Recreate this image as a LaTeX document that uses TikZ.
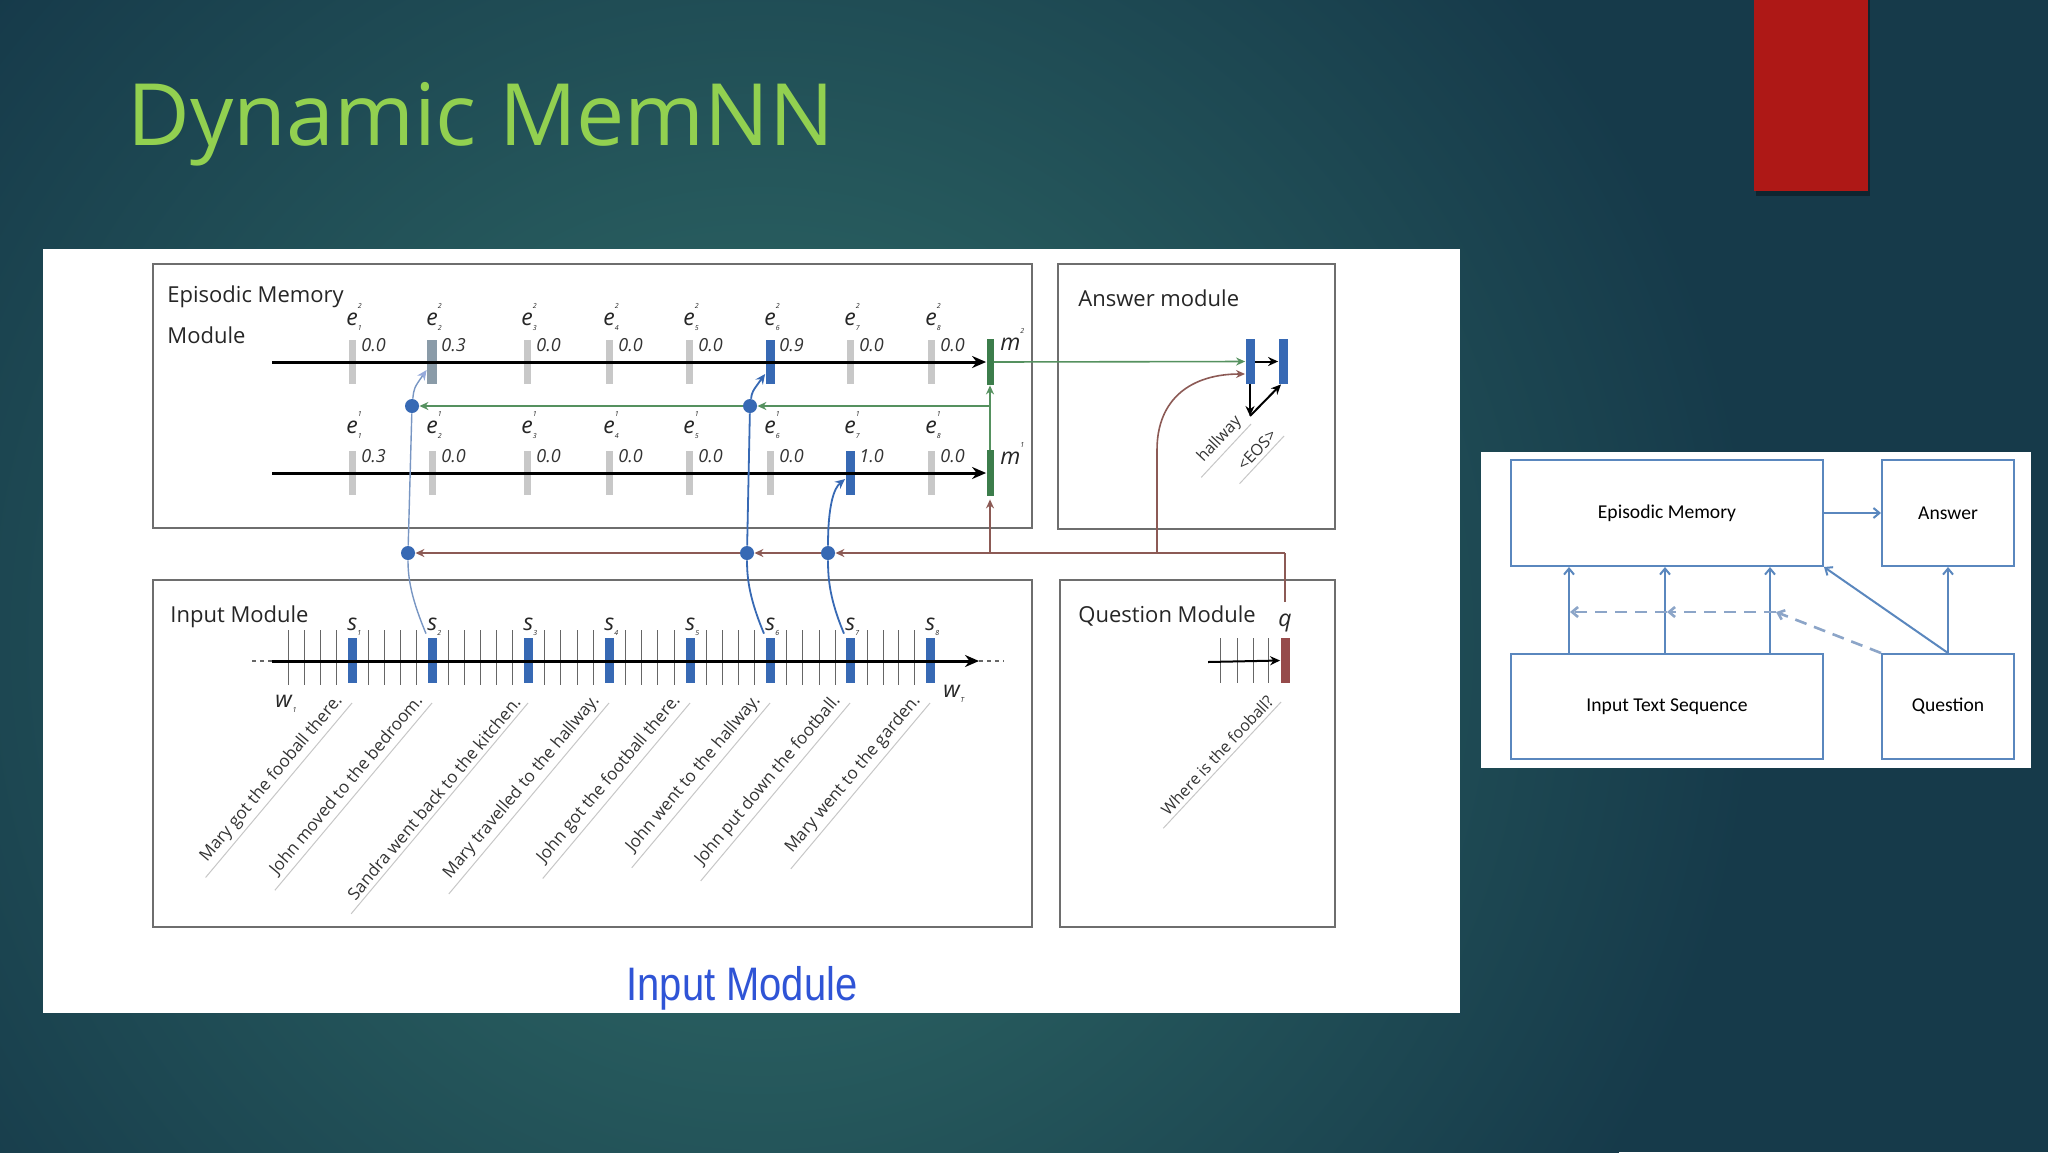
\documentclass[tikz,border=0pt]{standalone}
\usepackage{fontspec}
\setmainfont{Open Sans}
\newfontfamily\calibrifont{Carlito}
\newfontfamily\narrowsans[FakeStretch=0.85]{Liberation Sans}
\usetikzlibrary{arrows.meta}

\definecolor{bgout}{RGB}{22,58,74}
\definecolor{bgin}{RGB}{50,112,106}
\definecolor{titlegreen}{RGB}{146,208,80}
\definecolor{slidered}{RGB}{174,24,22}
\definecolor{boxgray}{RGB}{110,110,110}
\definecolor{lgray}{RGB}{200,200,200}
\definecolor{gblue}{RGB}{138,155,168}
\definecolor{bblue}{RGB}{55,105,180}
\definecolor{sblue}{RGB}{120,150,195}
\definecolor{lav}{RGB}{150,170,220}
\definecolor{dgreen}{RGB}{60,125,75}
\definecolor{lgreen}{RGB}{85,145,95}
\definecolor{brn}{RGB}{140,90,85}
\definecolor{qbrn}{RGB}{150,75,75}
\definecolor{pblue}{RGB}{90,135,190}
\definecolor{pdashc}{RGB}{140,165,200}
\definecolor{imblue}{RGB}{47,84,214}

\newcommand{\sublbl}[3]{\textit{#1}\makebox[0pt][l]{\raisebox{1.35ex}{\fontsize{3.5}{4}\selectfont\textit{#2}}}\raisebox{-0.45ex}{\fontsize{3.5}{4}\selectfont\textit{#3}}}

\begin{document}
\begin{tikzpicture}[x=0.5pt,y=0.5pt,
  module/.style={draw=boxgray, line width=1pt, inner sep=0},
  bar/.style={inner sep=0, minimum width=3.5pt, minimum height=22pt, draw=none},
  modlab/.style={font=\fontsize{11}{13}\selectfont, text=black!85, inner sep=0, anchor=base west},
  elab/.style={font=\fontsize{11.5}{13}\selectfont, text=black!85, inner sep=0, anchor=base west},
  nlab/.style={font=\fontsize{9}{10}\selectfont\itshape, text=black!80, inner sep=0, anchor=base west},
  sent/.style={font=\fontsize{8}{9}\selectfont, text=black!80, rotate=47, anchor=south east, inner sep=2pt},
  isent/.style={font=\fontsize{8.5}{9}\selectfont, text=black!80, rotate=50, anchor=south east, inner sep=2pt},
  uline/.style={draw=black!22, line width=0.5pt, shorten >=-4pt},
  rowline/.style={draw=black, line width=1.5pt, -{Stealth[length=7pt,width=6pt]}},
  thinblk/.style={draw=black, line width=1pt, -{Stealth[length=5pt,width=4.5pt]}},
  tickline/.style={draw=black!60, line width=0.4pt},
  gline/.style={draw=lgreen, line width=0.8pt},
  garrow/.style={draw=lgreen, line width=0.8pt, -{Stealth[length=4.5pt,width=4pt]}},
  bline/.style={draw=brn, line width=0.8pt},
  barrow/.style={draw=brn, line width=0.8pt, -{Stealth[length=4.5pt,width=4pt]}},
  dot/.style={circle, fill=bblue, inner sep=0, minimum size=7pt},
  spath/.style={draw=bblue, line width=0.9pt},
  sarrow/.style={draw=bblue, line width=0.9pt, -{Stealth[length=5pt,width=4.5pt]}},
  lpath/.style={draw=sblue, line width=0.7pt},
  larrow/.style={draw=sblue, line width=0.7pt, -{Stealth[length=5pt,width=4.5pt,color=lav,fill=lav]}},
  pbox/.style={draw=pblue, line width=1pt, inner sep=0, font=\calibrifont\fontsize{9.8}{11}\selectfont},
  parrow/.style={draw=pblue, line width=1pt, -{Straight Barb[length=3pt,width=5pt]}},
  pdash/.style={draw=pdashc, line width=1.3pt, dash pattern=on 6pt off 4pt, -{Straight Barb[length=3pt,width=5pt]}}
]
% background
\useasboundingbox (0,0) rectangle (2048,-1152);
\fill[bgout] (0,0) rectangle (2048,-1152);
\begin{scope}
\clip (0,0) rectangle (2048,-1152);
\shade[inner color=bgin, outer color=bgout] (760,-640) circle (1000);
\end{scope}
% red tab
\fill[black, opacity=0.35] (1756,0) rectangle (1870,-196);
\fill[slidered] (1754,0) rectangle (1868,-191);
% title
\node[font=\fontsize{43}{50}\selectfont, text=titlegreen, anchor=base west, inner sep=0] (title) at (127,-145) {Dynamic MemNN};

% white panel
\fill[white] (43,-249) rectangle (1460,-1013);

% module boxes
\node[module, minimum width=439.5pt, minimum height=132pt] (epi) at (592.5,-396) {};
\node[module, minimum width=138.5pt, minimum height=132.5pt] (ans) at (1196.5,-396.5) {};
\node[module, minimum width=439.5pt, minimum height=173.5pt] (inp) at (592.5,-753.5) {};
\node[module, minimum width=137.5pt, minimum height=173.5pt] (que) at (1197.5,-753.5) {};

\node[modlab] (epiT1) at (167,-302) {Episodic Memory};
\node[modlab] (epiT2) at (167,-343) {Module};
\node[modlab] (ansT) at (1078,-306) {Answer module};
\node[modlab] (inpT) at (170,-622) {Input Module};
\node[modlab] (queT) at (1078,-622) {Question Module};

% episodic rows
\foreach \i/\x/\v/\c/\w in {1/352/0.0/lgray/3.5pt, 2/432/0.3/gblue/5pt, 3/527/0.0/lgray/3.5pt, 4/609/0.0/lgray/3.5pt, 5/689/0.0/lgray/3.5pt, 6/770/0.9/bblue/4.5pt, 7/850/0.0/lgray/3.5pt, 8/931/0.0/lgray/3.5pt}{
  \node[bar, fill=\c, minimum width=\w] (t\i) at (\x,-362) {};
  \node[elab] (te\i) at (\x-6,-325) {\sublbl{e}{2}{\i}};
  \node[nlab] (tv\i) at (\x+9,-351) {\v};
}
\foreach \i/\x/\v/\c/\w in {1/352/0.3/lgray/3.5pt, 2/432/0.0/lgray/3.5pt, 3/527/0.0/lgray/3.5pt, 4/609/0.0/lgray/3.5pt, 5/689/0.0/lgray/3.5pt, 6/770/0.0/lgray/3.5pt, 7/850/1.0/bblue/4.5pt, 8/931/0.0/lgray/3.5pt}{
  \node[bar, fill=\c, minimum width=\w] (b\i) at (\x,-473) {};
  \node[elab] (be\i) at (\x-6,-433) {\sublbl{e}{1}{\i}};
  \node[nlab] (bv\i) at (\x+9,-462) {\v};
}
\node[bar, fill=dgreen, minimum height=23pt] (m2) at (990,-362) {};
\node[bar, fill=dgreen, minimum height=23pt] (m1) at (990,-473) {};
\node[elab] (m2T) at (1000,-350) {\sublbl{m}{2}{}};
\node[elab] (m1T) at (1000,-464) {\sublbl{m}{1}{}};

\coordinate (r2s) at (272,-362);
\coordinate (r1s) at (272,-473);
\draw[rowline] (r2s) -- (m2.west);
\draw[rowline] (r1s) -- (m1.west);

% green connections
\draw[garrow] (m1.north) -- (m2.south);
\node[dot] (u2) at (412,-406) {};
\node[dot] (u6) at (750,-406) {};
\coordinate (g0) at (990,-406);
\draw[garrow] (g0) -- (u6);
\draw[garrow] (u6) -- (u2);

% input module
\foreach \t in {288,304,320,336,368,384,400,416,448,464,480,496,512,544,560,577,593,625,641,657,674,706,722,738,754,786,802,819,835,867,883,898,914}{
  \draw[tickline] (\t,-630) -- (\t,-685);
}
\coordinate (inS) at (272,-661);
\coordinate (inE) at (979,-661);
\coordinate (inD0) at (252,-661);
\coordinate (inD1) at (1004,-661);
\draw[draw=black!60, line width=0.6pt, dash pattern=on 2pt off 2pt] (inD0) -- (inS);
\draw[draw=black!60, line width=0.6pt, dash pattern=on 2pt off 2pt] (inE) -- (inD1);
\foreach \i/\x in {1/352,2/432,3/528,4/609,5/690,6/770,7/850,8/930}{
  \node[bar, fill=bblue, minimum width=4.5pt, minimum height=22.5pt] (s\i) at (\x,-660.5) {};
  \node[elab] (sT\i) at (\x-5,-630) {\sublbl{s}{}{\i}};
}
\draw[rowline] (inS) -- (inE);
\node[elab] (w1T) at (275,-707) {\sublbl{w}{}{1}};
\node[elab] (wTT) at (943,-697) {\sublbl{w}{}{T}};

\foreach \i/\x/\t in {1/352/Mary got the fooball there., 2/432/John moved to the bedroom., 3/528/Sandra went back to the kitchen., 4/609/Mary travelled to the hallway., 5/690/John got the football there., 6/770/John went to the hallway., 7/850/John put down the football., 8/930/Mary went to the garden.}{
  \node[isent] (st\i) at (\x,-703) {\t};
  \draw[uline] (st\i.south east) -- (st\i.south west);
}

% dots on brown line
\node[dot] (l2) at (408,-553) {};
\node[dot] (l6) at (747,-553) {};
\node[dot] (l7) at (828,-553) {};

% brown connections
\coordinate (qtop) at (1285,-602);
\coordinate (bq) at (1285,-553);
\coordinate (b990) at (990,-553);
\coordinate (b1157) at (1157,-553);
\coordinate (ansin) at (1245,-374);
\draw[bline] (qtop) -- (bq);
\draw[barrow] (bq) -- (l7);
\draw[barrow] (l7) -- (l6);
\draw[barrow] (l6) -- (l2);
\draw[barrow, shorten >=1.5pt] (b990) -- (m1.south);
\draw[barrow] (b1157) -- (1157,-450) .. controls (1157,-398) and (1192,-374) .. (ansin);

% blue attention paths
\draw[lpath] ([xshift=-3pt,yshift=2pt]s2.north) .. controls (412,-600) and (408,-580) .. (l2);
\draw[lpath] (l2) -- (u2);
\draw[larrow] (u2) .. controls (414,-388) .. ([yshift=-4pt]t2.west);
\draw[spath] ([xshift=-3pt,yshift=2pt]s6.north) .. controls (750,-600) and (747,-580) .. (l6);
\draw[spath] (l6) -- (u6);
\draw[sarrow] (u6) .. controls (752,-392) .. ([yshift=-6pt]t6.west);
\draw[spath] ([xshift=-3pt,yshift=2pt]s7.north) .. controls (830,-600) and (828,-580) .. (l7);
\draw[sarrow] (l7) .. controls (828,-505) and (834,-488) .. ([yshift=-3pt]b7.west);

% answer module
\node[bar, fill=bblue, minimum width=4.5pt, minimum height=22.5pt] (a1) at (1250,-361.5) {};
\node[bar, fill=bblue, minimum width=4.5pt, minimum height=22.5pt] (a2) at (1283,-361.5) {};
\draw[garrow] (m2.east) -- (a1.west);
\draw[thinblk] (a1.east) -- (a2.west);
\coordinate (hw) at (1250,-416);
\draw[thinblk] (a1.south) -- (hw);
\draw[thinblk] (hw) -- ([xshift=-1pt]a2.south);
\node[sent] (hwT) at (1251,-424) {hallway};
\draw[uline] (hwT.south east) -- (hwT.south west);
\node[sent] (eosT) at (1284,-436) {<EOS>};
\draw[uline] (eosT.south east) -- (eosT.south west);

% question module
\node[bar, fill=qbrn, minimum width=4.5pt, minimum height=22.5pt] (qb) at (1285,-660.5) {};
\foreach \t in {1220,1237,1253,1268}{
  \draw[tickline] (\t,-638) -- (\t,-683);
}
\coordinate (qs) at (1208,-662);
\draw[thinblk] (qs) -- (qb.west);
\node[elab, anchor=base] (qT) at (1285,-626) {\textit{q}};
\node[sent] (qst) at (1281,-702) {Where is the fooball?};
\draw[uline] (qst.south east) -- (qst.south west);

% caption
\node[font=\narrowsans\fontsize{23.5}{26}\selectfont, text=imblue, anchor=base, inner sep=0] (imT) at (742,-1000) {Input Module};

% right overview panel
\fill[white] (1481,-452) rectangle (2031,-768);
\node[pbox, minimum width=156pt, minimum height=53pt] (EM) at (1667,-513) {Episodic Memory};
\node[pbox, minimum width=66pt, minimum height=53pt] (AN) at (1948,-513) {Answer};
\node[pbox, minimum width=156pt, minimum height=52.5pt] (ITS) at (1667,-706.5) {Input Text Sequence};
\node[pbox, minimum width=66pt, minimum height=52.5pt] (QU) at (1948,-706.5) {Question};
\draw[parrow] (EM.east) -- (AN.west);
\foreach \dx in {29.5pt,77.5pt,130pt}{
  \draw[parrow] ([xshift=\dx]ITS.north west) -- ([xshift=\dx]EM.south west);
}
\draw[parrow] (QU.north) -- (AN.south);
\draw[parrow] (QU.north) -- (EM.south east);
\coordinate (dA) at (1776,-612);
\coordinate (dB) at (1667,-612);
\coordinate (dC) at (1570,-612);
\draw[pdash] (QU.north west) -- (dA);
\draw[pdash] (dA) -- (dB);
\draw[pdash] (dB) -- (dC);
\end{tikzpicture}
\end{document}
